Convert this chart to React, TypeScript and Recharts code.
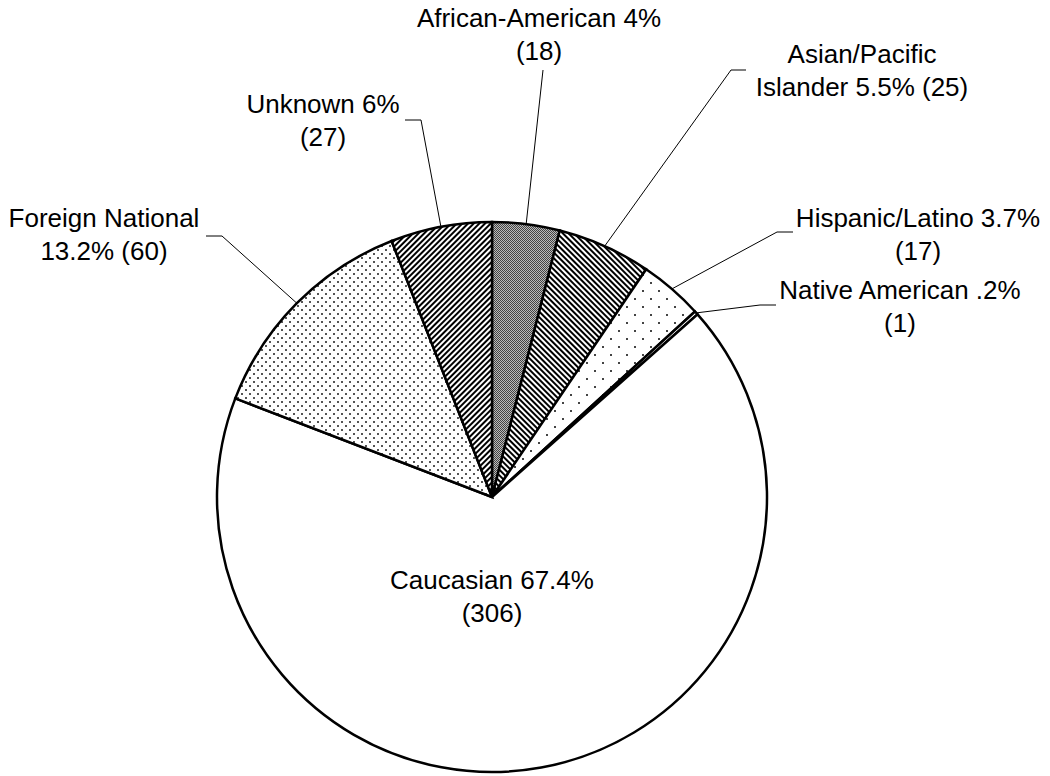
import { PieChart, Pie, Cell } from "recharts";

// slices clockwise from 12 o'clock
const CATEGORIES = [
  "African-American",
  "Asian/Pacific Islander",
  "Hispanic/Latino",
  "Native American",
  "Caucasian",
  "Foreign National",
  "Unknown",
];
const COUNTS = [18, 25, 17, 1, 306, 60, 27];
const LABEL_LINES = [
  ["African-American 4%", "(18)"],
  ["Asian/Pacific", "Islander 5.5% (25)"],
  ["Hispanic/Latino 3.7%", "(17)"],
  ["Native American .2%", "(1)"],
  ["Caucasian 67.4%", "(306)"],
  ["Foreign National", "13.2% (60)"],
  ["Unknown 6%", "(27)"],
];
const PATTERNS = ["checker", "stripeDown", "dotsSparse", "plain", "plain", "dotsDense", "stripeUp"];

// label placement (text centre, first line y) and leader line bend/end points
const LABEL_LAYOUT: { x: number; y: number; leader: [number, number][] | null }[] = [
  { x: 539, y: 18, leader: [[543, 70]] },
  { x: 862, y: 54, leader: [[731, 70], [746, 70]] },
  { x: 918, y: 218, leader: [[777, 232], [793, 232]] },
  { x: 900, y: 290, leader: [[760, 305], [776, 305]] },
  { x: 492, y: 580, leader: null },
  { x: 104, y: 218, leader: [[222, 236], [206, 236]] },
  { x: 323, y: 104, leader: [[421, 120], [405, 120]] },
];

const data = CATEGORIES.map((name, i) => ({ name, value: COUNTS[i] }));

const RAD = Math.PI / 180;
const FONT = "'Liberation Sans', Arial, sans-serif";

const renderLabel = (props: any) => {
  const { cx, cy, midAngle, outerRadius, index } = props;
  const layout = LABEL_LAYOUT[index];
  const sx = cx + outerRadius * Math.cos(-midAngle * RAD);
  const sy = cy + outerRadius * Math.sin(-midAngle * RAD);
  const pts = layout.leader ? [[sx, sy], ...layout.leader] : null;
  return (
    <g key={`lbl-${index}`}>
      {pts && (
        <polyline
          points={pts.map((p) => p.join(",")).join(" ")}
          fill="none"
          stroke="#000"
          strokeWidth={1}
        />
      )}
      {LABEL_LINES[index].map((t, j) => (
        <text
          key={j}
          x={layout.x}
          y={layout.y + j * 33}
          textAnchor="middle"
          dominantBaseline="central"
          fontFamily={FONT}
          fontSize={26}
          fill="#000"
        >
          {t}
        </text>
      ))}
    </g>
  );
};

function Patterns() {
  return (
    <svg width={0} height={0} style={{ position: "absolute" }}>
      <defs>
        <pattern id="checker" width={2} height={2} patternUnits="userSpaceOnUse">
          <rect width={2} height={2} fill="#bbb" />
          <rect x={0} y={0} width={1} height={1} fill="#444" shapeRendering="crispEdges" />
          <rect x={1} y={1} width={1} height={1} fill="#444" shapeRendering="crispEdges" />
        </pattern>
        <pattern id="stripeUp" width={4} height={4} patternUnits="userSpaceOnUse" patternTransform="rotate(45)">
          <rect width={4} height={4} fill="#fff" />
          <rect width={2} height={4} fill="#000" />
        </pattern>
        <pattern id="stripeDown" width={4} height={4} patternUnits="userSpaceOnUse" patternTransform="rotate(-45)">
          <rect width={4} height={4} fill="#fff" />
          <rect width={2} height={4} fill="#000" />
        </pattern>
        <pattern id="dotsDense" width={8} height={8} patternUnits="userSpaceOnUse">
          <rect width={8} height={8} fill="#fff" />
          <rect x={1} y={1} width={2} height={2} fill="#555" />
          <rect x={5} y={5} width={2} height={2} fill="#555" />
        </pattern>
        <pattern id="dotsSparse" width={16} height={16} patternUnits="userSpaceOnUse">
          <rect width={16} height={16} fill="#fff" />
          <rect x={2} y={2} width={2} height={2} fill="#444" />
          <rect x={10} y={10} width={2} height={2} fill="#444" />
        </pattern>
      </defs>
    </svg>
  );
}

export default function App() {
  return (
    <div style={{ position: "absolute", left: 0, top: 0, width: 1050, height: 776, background: "#fff" }}>
      <Patterns />
      <PieChart width={1050} height={776} margin={{ top: 0, right: 0, bottom: 0, left: 0 }}>
        <Pie
          data={data}
          dataKey="value"
          nameKey="name"
          cx={492}
          cy={497}
          outerRadius={275}
          startAngle={90}
          endAngle={-270}
          stroke="#000"
          strokeWidth={2.5}
          label={renderLabel}
          labelLine={false}
          isAnimationActive={false}
        >
          {data.map((d, i) => (
            <Cell key={d.name} fill={PATTERNS[i] === "plain" ? "#fff" : `url(#${PATTERNS[i]})`} />
          ))}
        </Pie>
      </PieChart>
    </div>
  );
}
